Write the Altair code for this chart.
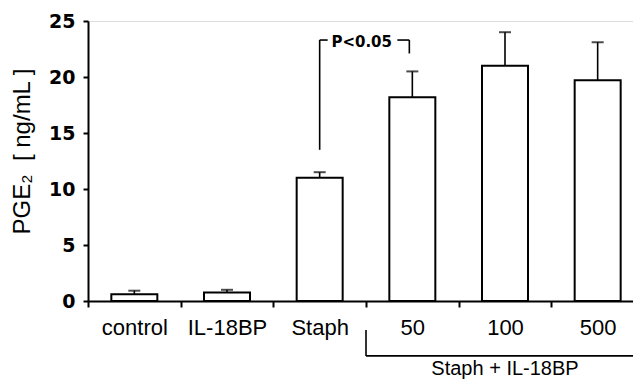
import altair as alt
import pandas as pd

# ---- data ----
categories = ["control", "IL-18BP", "Staph", "50", "100", "500"]
means = [0.6, 0.75, 11.0, 18.2, 21.0, 19.7]
upper = [0.92, 1.0, 11.5, 20.5, 24.0, 23.1]
y_ticks = [0, 5, 10, 15, 20, 25]

# significance bracket (Staph vs 50)
sig_pair = ["Staph", "50"]
sig_level = 23.3
sig_leg_bottom = [13.5, 22.1]
sig_text = "P<0.05"

# group bracket below axis
group_label = "Staph + IL-18BP"
group_first, group_mid, group_last = "50", "100", "500"
group_top, group_bottom, group_text_y = -2.6, -4.9, -6.1

df = pd.DataFrame({"cat": categories, "mean": means, "upper": upper})

W = 545          # visible plot width (svg stays inside the window)
RANGE = 556      # band range; the last band runs past the window edge
H = 280
HALF = RANGE / len(categories) / 2

xscale = alt.Scale(type="band", domain=categories, range=[0, RANGE],
                   paddingInner=0, paddingOuter=0)
yscale = alt.Scale(domain=[0, 25], nice=False)

xaxis = alt.Axis(title=None, labelAngle=0, tickBand="extent", tickSize=6,
                 tickWidth=2, tickColor="black", domainWidth=2,
                 domainColor="black", labelFont="Liberation Sans",
                 labelFontSize=22, labelColor="black", labelPadding=10,
                 grid=False)
yaxis = alt.Axis(title="PGE₂\u00a0\u00a0[ ng/mL ]", values=y_ticks, tickSize=5,
                 tickWidth=2, tickColor="black", domainWidth=2,
                 domainColor="black", labelFont="DejaVu Sans",
                 labelFontWeight="bold", labelFontSize=19,
                 labelColor="black", labelPadding=8, grid=False,
                 titleFont="Liberation Sans", titleFontSize=24,
                 titleFontWeight="normal", titleColor="#000000",
                 titleAngle=-90, titleAlign="center",
                 titleBaseline="middle", titleX=-66, titleY=130)

X = alt.X("cat:N", scale=xscale, sort=categories, axis=xaxis)

bars = alt.Chart(df).mark_bar(fill="white", stroke="black", strokeWidth=2,
                              size=46).encode(
    x=X, y=alt.Y("mean:Q", scale=yscale, axis=yaxis))

err = alt.Chart(df).mark_rule(color="black", strokeWidth=1.6).encode(
    x=alt.X("cat:N", scale=xscale, sort=categories),
    y=alt.Y("mean:Q", scale=yscale), y2="upper:Q")

caps = alt.Chart(df).mark_tick(color="black", thickness=2, size=12).encode(
    x=alt.X("cat:N", scale=xscale, sort=categories),
    y=alt.Y("upper:Q", scale=yscale))

base = alt.Chart(pd.DataFrame({"d": [0]}))

leg_left = base.mark_rule(color="black", strokeWidth=1.6).encode(
    x=alt.datum(sig_pair[0]), y=alt.datum(sig_level), y2=alt.datum(sig_leg_bottom[0]))
leg_right = base.mark_rule(color="black", strokeWidth=1.6, xOffset=-3).encode(
    x=alt.datum(sig_pair[1]), y=alt.datum(sig_level), y2=alt.datum(sig_leg_bottom[1]))
seg_left = base.mark_rule(color="black", strokeWidth=1.6, x2Offset=8).encode(
    x=alt.datum(sig_pair[0]), x2=alt.datum(sig_pair[0]), y=alt.datum(sig_level))
seg_right = base.mark_rule(color="black", strokeWidth=1.6, xOffset=-15,
                           x2Offset=-3).encode(
    x=alt.datum(sig_pair[1]), x2=alt.datum(sig_pair[1]), y=alt.datum(sig_level))
sig_lbl = base.mark_text(text=sig_text, font="DejaVu Sans", fontWeight="bold",
                         fontSize=15, color="black", dx=42, dy=2,
                         baseline="middle", align="center").encode(
    x=alt.datum(sig_pair[0]), y=alt.datum(sig_level))

grp_v = base.mark_rule(color="black", strokeWidth=1.6, xOffset=-HALF).encode(
    x=alt.datum(group_first), y=alt.datum(group_top), y2=alt.datum(group_bottom))
grp_h = base.mark_rule(color="black", strokeWidth=1.6, xOffset=-HALF,
                       x2Offset=HALF + 10).encode(
    x=alt.datum(group_first), x2=alt.datum(group_last), y=alt.datum(group_bottom))
grp_lbl = base.mark_text(text=group_label, font="Liberation Sans", fontSize=20,
                         color="black", baseline="middle", align="center").encode(
    x=alt.datum(group_mid), y=alt.datum(group_text_y))

chart = alt.layer(bars, err, caps, leg_left, leg_right, seg_left, seg_right,
                  sig_lbl, grp_v, grp_h, grp_lbl).properties(
    width=W, height=H,
    autosize=alt.AutoSizeParams(type="none"),
    padding={"left": 80, "top": 13, "right": 0, "bottom": 80},
).configure_view(stroke=None).configure(background="white")

chart.save("out.html", embed_options={"renderer": "svg", "actions": False})
